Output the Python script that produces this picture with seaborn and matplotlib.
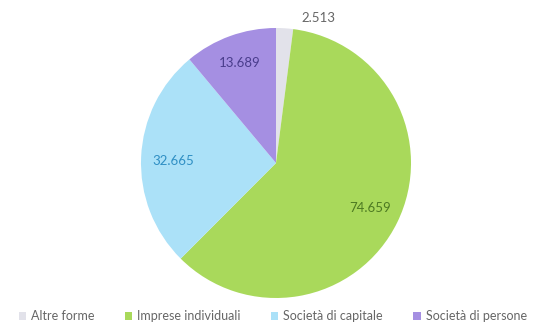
import numpy as np
import seaborn as sns
import matplotlib.pyplot as plt

# Data
categories = ["Altre forme", "Imprese individuali", "Società di capitale", "Società di persone"]
values = [2513, 74659, 32665, 13689]
value_labels = ["2.513", "74.659", "32.665", "13.689"]

colors = ["#e2e2ea", "#a9d95b", "#abe1f8", "#a58fe2"]
label_colors = ["#666666", "#4d7a22", "#2f8fc4", "#4a3d8c"]
# label placement (radius, angle shift in degrees from wedge middle)
label_dist = [1.12, 0.77, 0.76, 0.785]
label_shift = [-12.5, 0.5, 1.4, 0.0]

sns.set_theme(style="white")
plt.rcParams['font.family'] = ['Lato', 'DejaVu Sans']

fig = plt.figure(figsize=(5.35, 3.26), dpi=100)
ax = fig.add_axes([141 / 535, 28 / 326, 270 / 535, 270 / 326])

wedges, _ = ax.pie(values, colors=colors, startangle=90, counterclock=False,
                   wedgeprops=dict(linewidth=0))
ax.set_xlim(-1, 1)
ax.set_ylim(-1, 1)
ax.set_aspect("equal")

for w, txt, col, d, s in zip(wedges, value_labels, label_colors, label_dist, label_shift):
    ang = np.deg2rad((w.theta1 + w.theta2) / 2 + s)
    ax.text(d * np.cos(ang), d * np.sin(ang), txt, ha="center", va="center",
            fontsize=9.5, color=col, clip_on=False)

fig.legend(wedges, categories, loc="center", bbox_to_anchor=(0.51, 1 - 316 / 326),
           ncol=4, frameon=False, fontsize=9, handlelength=0.6, handleheight=0.6,
           handletextpad=0.4, columnspacing=2.4, labelcolor="#666666")

fig.savefig("out.png", dpi=100)
